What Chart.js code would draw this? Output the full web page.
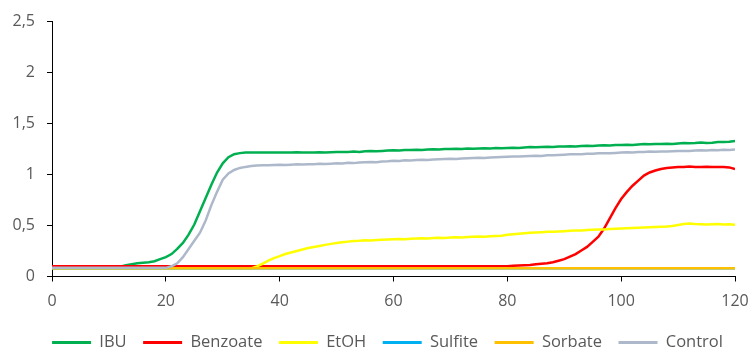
<!DOCTYPE html>
<html>
<head>
<meta charset="utf-8">
<script src="https://cdn.jsdelivr.net/npm/chart.js@4/dist/chart.umd.min.js"></script>
<style>
html,body{margin:0;padding:0;background:#fff;}
#wrap{width:752px;height:356px;}
</style>
</head>
<body>
<div id="wrap"><canvas id="c" width="752" height="356"></canvas></div>
<script>
const time = [0,1,2,3,4,5,6,7,8,9,10,11,12,13,14,15,16,17,18,19,20,21,22,23,24,25,26,27,28,29,30,31,32,33,34,35,36,37,38,39,40,41,42,43,44,45,46,47,48,49,50,51,52,53,54,55,56,57,58,59,60,61,62,63,64,65,66,67,68,69,70,71,72,73,74,75,76,77,78,79,80,81,82,83,84,85,86,87,88,89,90,91,92,93,94,95,96,97,98,99,100,101,102,103,104,105,106,107,108,109,110,111,112,113,114,115,116,117,118,119,120];

const ibu = [
0.09,0.09,0.09,0.09,0.09,0.09,0.09,0.09,0.09,0.09,
0.09,0.09,0.095,0.11,0.12,0.13,0.135,0.14,0.15,0.17,
0.19,0.22,0.27,0.33,0.41,0.51,0.64,0.77,0.9,1.02,
1.11,1.17,1.2,1.21,1.215,1.215,1.215,1.215,1.215,1.215,
1.215,1.215,1.215,1.218,1.215,1.215,1.215,1.218,1.215,1.218,
1.22,1.222,1.22,1.225,1.222,1.228,1.23,1.228,1.232,1.235,
1.238,1.235,1.24,1.24,1.243,1.24,1.245,1.248,1.245,1.25,
1.25,1.252,1.25,1.255,1.252,1.255,1.258,1.256,1.26,1.258,
1.26,1.262,1.26,1.265,1.27,1.268,1.27,1.272,1.27,1.275,
1.275,1.278,1.275,1.28,1.282,1.28,1.285,1.288,1.285,1.29,
1.29,1.292,1.29,1.295,1.3,1.298,1.3,1.3,1.302,1.3,
1.305,1.31,1.308,1.31,1.315,1.31,1.312,1.318,1.32,1.322,
1.33];

const benzoate = [
0.1,0.1,0.1,0.1,0.1,0.1,0.1,0.1,0.1,0.1,
0.1,0.1,0.1,0.1,0.1,0.1,0.1,0.1,0.1,0.1,
0.1,0.1,0.1,0.1,0.1,0.1,0.1,0.1,0.1,0.1,
0.1,0.1,0.1,0.1,0.1,0.1,0.1,0.1,0.1,0.1,
0.1,0.1,0.1,0.1,0.1,0.1,0.1,0.1,0.1,0.1,
0.1,0.1,0.1,0.1,0.1,0.1,0.1,0.1,0.1,0.1,
0.1,0.1,0.1,0.1,0.1,0.1,0.1,0.1,0.1,0.1,
0.1,0.1,0.1,0.1,0.1,0.1,0.1,0.1,0.1,0.1,
0.1,0.105,0.108,0.11,0.113,0.12,0.125,0.13,0.14,0.155,
0.17,0.195,0.22,0.255,0.29,0.34,0.39,0.47,0.57,0.67,
0.76,0.83,0.89,0.94,0.99,1.02,1.04,1.055,1.065,1.07,
1.075,1.075,1.078,1.075,1.075,1.077,1.075,1.075,1.074,1.07,
1.055];

const etoh = [
0.08,0.08,0.08,0.08,0.08,0.08,0.08,0.08,0.08,0.08,
0.08,0.08,0.08,0.08,0.08,0.08,0.08,0.08,0.08,0.08,
0.08,0.08,0.08,0.08,0.08,0.08,0.08,0.08,0.08,0.08,
0.08,0.08,0.08,0.08,0.08,0.08,0.1,0.125,0.155,0.18,
0.2,0.22,0.235,0.25,0.265,0.28,0.29,0.3,0.31,0.32,
0.328,0.335,0.342,0.348,0.35,0.355,0.352,0.358,0.36,0.362,
0.365,0.368,0.365,0.37,0.372,0.375,0.373,0.378,0.38,0.378,
0.382,0.385,0.383,0.388,0.39,0.392,0.39,0.395,0.398,0.4,
0.41,0.415,0.42,0.425,0.428,0.432,0.435,0.438,0.44,0.442,
0.445,0.448,0.45,0.452,0.455,0.458,0.46,0.462,0.465,0.468,
0.47,0.473,0.475,0.478,0.48,0.483,0.485,0.488,0.49,0.495,
0.505,0.515,0.52,0.515,0.512,0.51,0.512,0.515,0.51,0.512,
0.508];

const sulfite = [
0.08,0.08,0.08,0.08,0.08,0.08,0.08,0.08,0.08,0.08,
0.08,0.08,0.08,0.08,0.08,0.08,0.08,0.08,0.08,0.08,
0.08,0.08,0.08,0.08,0.08,0.08,0.08,0.08,0.08,0.08,
0.08,0.08,0.08,0.08,0.08,0.08,0.08,0.08,0.08,0.08,
0.08,0.08,0.08,0.08,0.08,0.08,0.08,0.08,0.08,0.08,
0.08,0.08,0.08,0.08,0.08,0.08,0.08,0.08,0.08,0.08,
0.08,0.08,0.08,0.08,0.08,0.08,0.08,0.08,0.08,0.08,
0.08,0.08,0.08,0.08,0.08,0.08,0.08,0.08,0.08,0.08,
0.08,0.08,0.08,0.08,0.08,0.08,0.08,0.08,0.08,0.08,
0.08,0.08,0.08,0.08,0.08,0.08,0.08,0.08,0.08,0.08,
0.08,0.08,0.08,0.08,0.08,0.08,0.08,0.08,0.08,0.08,
0.08,0.08,0.08,0.08,0.08,0.08,0.08,0.08,0.08,0.08,
0.08];

const sorbate = [
0.08,0.08,0.08,0.08,0.08,0.08,0.08,0.08,0.08,0.08,
0.08,0.08,0.08,0.08,0.08,0.08,0.08,0.08,0.08,0.08,
0.08,0.08,0.08,0.08,0.08,0.08,0.08,0.08,0.08,0.08,
0.08,0.08,0.08,0.08,0.08,0.08,0.08,0.08,0.08,0.08,
0.08,0.08,0.08,0.08,0.08,0.08,0.08,0.08,0.08,0.08,
0.08,0.08,0.08,0.08,0.08,0.08,0.08,0.08,0.08,0.08,
0.08,0.08,0.08,0.08,0.08,0.08,0.08,0.08,0.08,0.08,
0.08,0.08,0.08,0.08,0.08,0.08,0.08,0.08,0.08,0.08,
0.08,0.08,0.08,0.08,0.08,0.08,0.08,0.08,0.08,0.08,
0.08,0.08,0.08,0.08,0.08,0.08,0.08,0.08,0.08,0.08,
0.08,0.08,0.08,0.08,0.08,0.08,0.08,0.08,0.08,0.08,
0.08,0.08,0.08,0.08,0.08,0.08,0.08,0.08,0.08,0.08,
0.08];

const control = [
0.085,0.085,0.085,0.085,0.085,0.085,0.085,0.085,0.085,0.085,
0.085,0.085,0.085,0.085,0.085,0.085,0.085,0.085,0.085,0.085,
0.085,0.1,0.13,0.19,0.27,0.35,0.43,0.55,0.7,0.83,
0.95,1.01,1.045,1.065,1.075,1.083,1.088,1.09,1.09,1.093,
1.095,1.093,1.097,1.1,1.098,1.1,1.102,1.105,1.103,1.107,
1.11,1.108,1.115,1.112,1.118,1.12,1.122,1.12,1.128,1.13,
1.135,1.132,1.14,1.138,1.142,1.145,1.143,1.148,1.15,1.152,
1.155,1.152,1.158,1.16,1.162,1.165,1.163,1.168,1.17,1.172,
1.175,1.178,1.176,1.18,1.182,1.185,1.183,1.188,1.19,1.192,
1.195,1.198,1.2,1.198,1.203,1.205,1.208,1.21,1.208,1.212,
1.215,1.218,1.216,1.22,1.222,1.225,1.223,1.226,1.225,1.228,
1.23,1.232,1.23,1.235,1.238,1.235,1.24,1.238,1.242,1.24,
1.245];

const seriesNames = ['IBU','Benzoate','EtOH','Sulfite','Sorbate','Control'];
const seriesValues = [ibu, benzoate, etoh, sulfite, sorbate, control];
const seriesColors = ['#00B050','#FF0000','#FFFF00','#00B0F0','#FFC000','#ADB9CA'];

const xTickValues = [0,20,40,60,80,100,120];
const xTickLabels = ['0','20','40','60','80','100','120'];
const yTickValues = [0,0.5,1,1.5,2,2.5];
const yTickLabels = ['0','0,5','1','1,5','2','2,5'];

const FONT = "'Open Sans', 'Noto Sans', sans-serif";
const TEXT = '#595959';

const datasets = seriesNames.map((name, i) => ({
  label: name,
  data: time.map((t, k) => ({x: t, y: seriesValues[i][k]})),
  borderColor: seriesColors[i],
  backgroundColor: seriesColors[i],
  borderWidth: 2.5,
  pointRadius: 0,
  pointHoverRadius: 0,
  tension: 0,
  fill: false,
  order: seriesNames.length - 1 - i
}));

const legendShift = {
  id: 'legendShift',
  afterLayout(chart) {
    if (chart.legend) { chart.legend.left += 7; chart.legend.right += 7; }
  }
};

new Chart(document.getElementById('c'), {
  type: 'line',
  data: { datasets },
  plugins: [legendShift],
  options: {
    responsive: false,
    animation: false,
    devicePixelRatio: 1,
    layout: { padding: { left: 12, right: 3, top: 19, bottom: -4.7 } },
    plugins: {
      tooltip: { enabled: false },
      legend: {
        position: 'bottom',
        labels: {
          font: { family: FONT, size: 16.5 },
          color: TEXT,
          boxWidth: 39,
          boxHeight: 3,
          padding: 16.5,
          sort: (a, b) => a.datasetIndex - b.datasetIndex,
          generateLabels: (chart) => Chart.defaults.plugins.legend.labels.generateLabels(chart)
            .map(l => Object.assign({}, l, { lineWidth: 0, fillStyle: seriesColors[l.datasetIndex] }))
        }
      }
    },
    scales: {
      x: {
        type: 'linear',
        min: 0, max: 120,
        afterBuildTicks: (s) => { s.ticks = xTickValues.map(v => ({value: v})); },
        afterFit: (s) => { s.height = 41.2; s.paddingRight = 17; s.paddingLeft = 0; },
        ticks: {
          font: { family: FONT, size: 16 },
          color: TEXT,
          padding: 10,
          maxRotation: 0,
          autoSkip: false,
          callback: (v) => xTickLabels[xTickValues.indexOf(v)]
        },
        grid: { drawOnChartArea: false, drawTicks: true, tickLength: 5, color: '#000', lineWidth: 1 },
        border: { display: true, color: '#000', width: 1 }
      },
      y: {
        type: 'linear',
        min: 0, max: 2.5,
        afterBuildTicks: (s) => { s.ticks = yTickValues.map(v => ({value: v})); },
        afterFit: (s) => { s.width = 40; },
        ticks: {
          font: { family: FONT, size: 16 },
          color: TEXT,
          padding: 12,
          autoSkip: false,
          callback: (v) => yTickLabels[yTickValues.indexOf(v)]
        },
        grid: { drawOnChartArea: false, drawTicks: true, tickLength: 5, color: '#000', lineWidth: 1 },
        border: { display: true, color: '#000', width: 1 }
      }
    }
  }
});
</script>
</body>
</html>
